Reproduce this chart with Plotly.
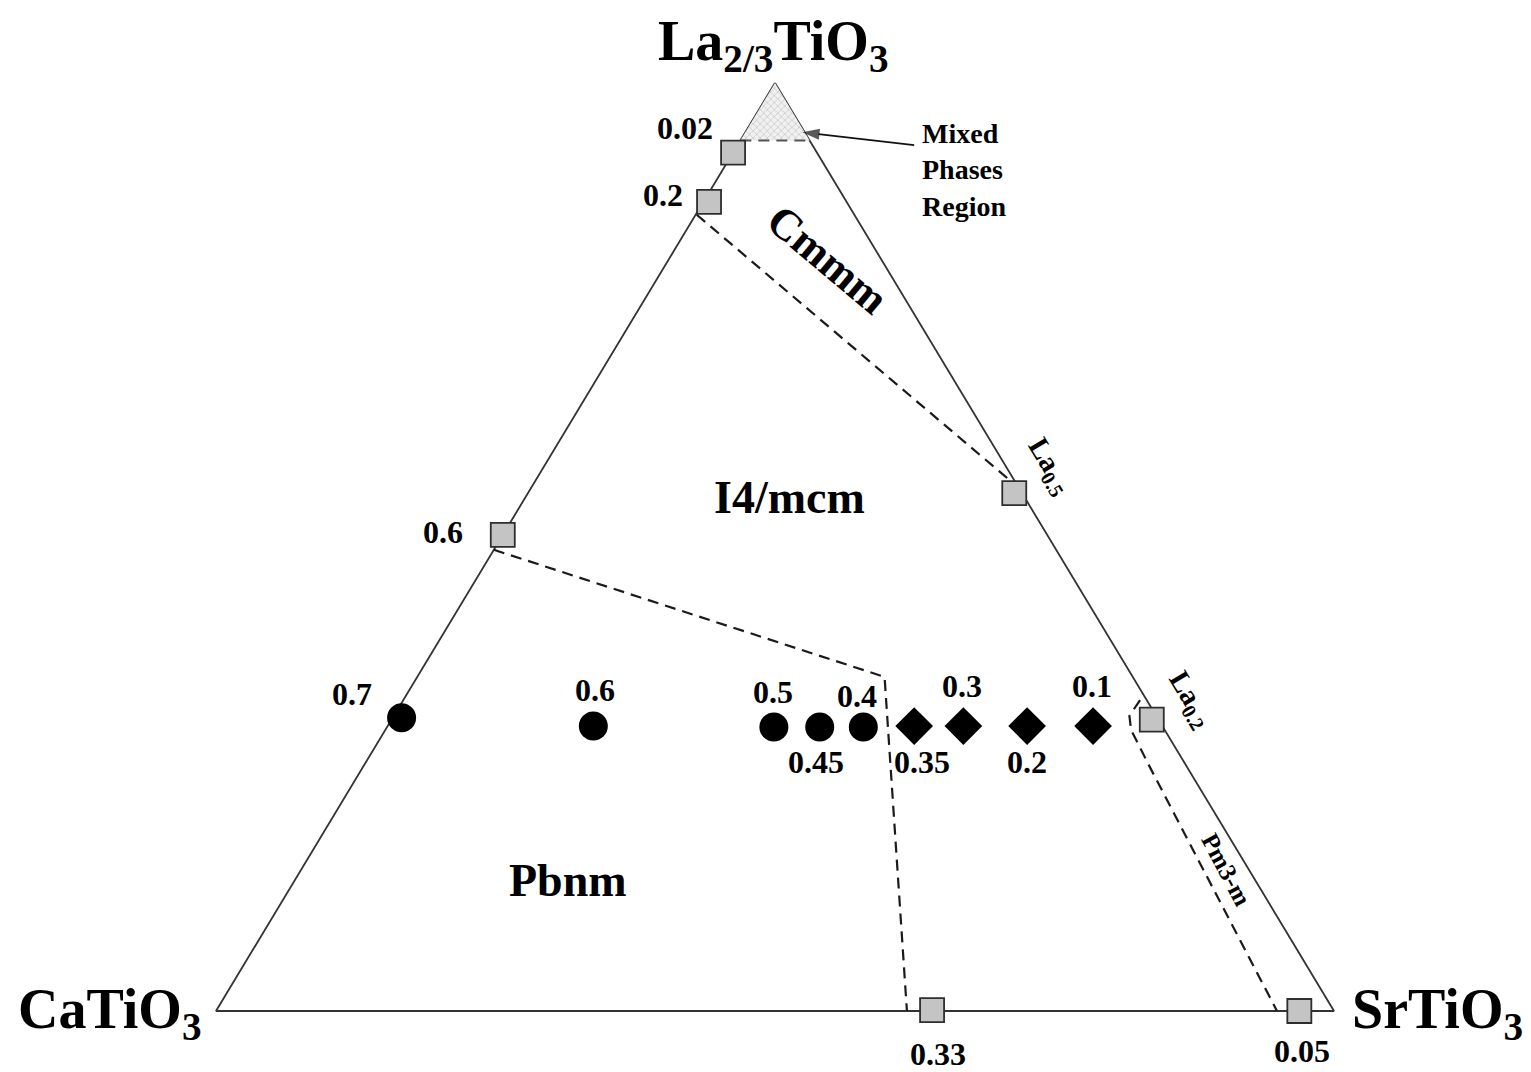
import plotly.graph_objects as go

FONT = "Liberation Serif"

# Compositions are given as (La, Sr) fractions of the three end members; Ca = 1 - La - Sr.
corner_names = ["La<sub>2/3</sub>TiO<sub>3</sub>", "CaTiO<sub>3</sub>", "SrTiO<sub>3</sub>"]
corner_la = [1.0, 0.0, 0.0]
corner_sr = [0.0, 0.0, 1.0]

# Studied samples: Pbnm (circles) and I4/mcm (diamonds)
circle_labels = ["0.7", "0.6", "0.5", "0.45", "0.4"]
circle_la = [0.316, 0.307, 0.306, 0.306, 0.306]
circle_sr = [0.008, 0.184, 0.346, 0.387, 0.426]

diamond_labels = ["0.35", "0.3", "0.2", "0.1"]
diamond_la = [0.307, 0.307, 0.307, 0.307]
diamond_sr = [0.471, 0.515, 0.572, 0.631]

# Literature end points of the binary joins (squares)
square_labels = ["0.02", "0.2", "0.6", "La<sub>0.5</sub>", "La<sub>0.2</sub>", "0.33", "0.05"]
square_la = [0.925, 0.872, 0.513, 0.558, 0.314, 0.001, 0.0]
square_sr = [0.0, 0.005, 0.0, 0.435, 0.680, 0.640, 0.969]

# Phase boundaries
mixed_la = [1.0, 0.938, 0.938]
mixed_sr = [0.0, 0.0, 0.062]
cmmm_bound_la = [0.858, 0.574]
cmmm_bound_sr = [0.001, 0.421]
pbnm_bound_la = [0.497, 0.360, 0.0]
pbnm_bound_sr = [0.0, 0.418, 0.618]
cubic_bound_la = [0.335, 0.318, 0.303, 0.267, 0.0]
cubic_bound_sr = [0.659, 0.658, 0.667, 0.700, 0.949]

# Pointer into the mixed-phase corner (tail, head)
arrow_la = [0.933, 0.947]
arrow_sr = [0.158, 0.051]


def to_xy(la, sr):
    """Ternary (La, Sr) fractions -> cartesian position inside the triangle."""
    xs = [s + l / 2 for l, s in zip(la, sr)]
    ys = list(la)
    return xs, ys


# label offsets in pixels (x, y) relative to their marker
circle_shift = [(-50, 24), (2, 36), (-1, 35), (-4, -35), (-6, 31)]
diamond_shift = [(8, -36), (-1, 40), (0, -36), (-1, 40)]
square_shift = [(-48, 25), (-46, 7), (-60, 3), (35, 27), (39, 20), (6, -44), (3, -40)]
square_angle = [0, 0, 0, 59, 59, 0, 0]
square_size = [32, 32, 32, 29, 29, 32, 32]

EDGE = "#333333"
DASH = "11px,7px"

fig = go.Figure()

# Outer triangle
tx, ty = to_xy(corner_la + corner_la[:1], corner_sr + corner_sr[:1])
fig.add_trace(go.Scatter(x=tx, y=ty, mode="lines",
                         line=dict(color=EDGE, width=1.8), hoverinfo="skip"))

# Mixed-phase region (hatched)
mx, my = to_xy(mixed_la, mixed_sr)
fig.add_trace(go.Scatter(x=mx, y=my, mode="lines", fill="toself",
                         fillcolor="rgba(0,0,0,0)",
                         fillpattern=dict(shape="x", size=5, solidity=0.25,
                                          fgcolor="#9a9a9a", bgcolor="#f0f0f0"),
                         line=dict(width=0), hoverinfo="skip"))
bx, by = to_xy(mixed_la[1:], mixed_sr[1:])
fig.add_trace(go.Scatter(x=bx, y=by, mode="lines",
                         line=dict(color="#555555", width=2, dash=DASH), hoverinfo="skip"))

# Dashed phase boundaries
for la, sr in [(cmmm_bound_la, cmmm_bound_sr), (pbnm_bound_la, pbnm_bound_sr),
               (cubic_bound_la, cubic_bound_sr)]:
    x, y = to_xy(la, sr)
    fig.add_trace(go.Scatter(x=x, y=y, mode="lines",
                             line=dict(color="#1a1a1a", width=2.2, dash=DASH),
                             hoverinfo="skip"))

# Pointer line with arrow head
ax_, ay_ = to_xy(arrow_la, arrow_sr)
fig.add_trace(go.Scatter(x=ax_, y=ay_, mode="lines+markers",
                         line=dict(color="#111111", width=1.8),
                         marker=dict(symbol="arrow", angleref="previous", size=[0, 18],
                                     color="#111111", line=dict(width=0)),
                         hoverinfo="skip"))

# Squares
sx, sy = to_xy(square_la, square_sr)
fig.add_trace(go.Scatter(x=sx, y=sy, mode="markers",
                         marker=dict(symbol="square", size=24, color="#c4c4c4",
                                     line=dict(color="#2e2e2e", width=1.8)),
                         hoverinfo="skip"))

# Circles and diamonds
cx, cy = to_xy(circle_la, circle_sr)
fig.add_trace(go.Scatter(x=cx, y=cy, mode="markers",
                         marker=dict(symbol="circle", size=29, color="black"),
                         hoverinfo="skip"))
dx, dy = to_xy(diamond_la, diamond_sr)
fig.add_trace(go.Scatter(x=dx, y=dy, mode="markers",
                         marker=dict(symbol="diamond", size=29, color="black"),
                         hoverinfo="skip"))

annotations = []


def bold(size):
    return dict(family=FONT, size=size, color="black", weight="bold")


for xs, ys, labels, shifts in [(cx, cy, circle_labels, circle_shift),
                               (dx, dy, diamond_labels, diamond_shift)]:
    for x, y, t, (sh_x, sh_y) in zip(xs, ys, labels, shifts):
        annotations.append(dict(x=x, y=y, text=t, showarrow=False, xshift=sh_x,
                                yshift=sh_y, font=bold(32)))

for x, y, t, (sh_x, sh_y), ang, fs in zip(sx, sy, square_labels, square_shift,
                                          square_angle, square_size):
    annotations.append(dict(x=x, y=y, text=t, showarrow=False, xshift=sh_x,
                            yshift=sh_y, textangle=ang, font=bold(fs)))

# Corner names
kx, ky = to_xy(corner_la, corner_sr)
corner_shift = [(-2, 38), (-106, -2), (103, -2)]
for x, y, t, (sh_x, sh_y) in zip(kx, ky, corner_names, corner_shift):
    annotations.append(dict(x=x, y=y, text=t, showarrow=False, xshift=sh_x,
                            yshift=sh_y, font=bold(56)))

# Space-group regions
annotations += [
    dict(x=0.547, y=0.81, text="Cmmm", textangle=40, showarrow=False, font=bold(44)),
    dict(x=0.513, y=0.553, text="I4/mcm", showarrow=False, font=bold(46)),
    dict(x=0.315, y=0.141, text="Pbnm", showarrow=False, font=bold(46)),
    dict(x=0.9035, y=0.152, text="Pm3-m", textangle=62, showarrow=False, font=bold(25)),
]

# Mixed-phase callout
annotations.append(dict(x=0.6295, y=0.906, text="Mixed<br>Phases<br>Region", align="left",
                        xanchor="left", yanchor="middle", showarrow=False, font=bold(28)))

fig.update_layout(
    width=1531, height=1072,
    margin=dict(l=0, r=0, t=0, b=0),
    paper_bgcolor="white", plot_bgcolor="white",
    showlegend=False,
    xaxis=dict(range=[-216 / 1118, 1315 / 1118], visible=False, fixedrange=True),
    yaxis=dict(range=[-61 / 928, 1 + 83 / 928], visible=False, fixedrange=True),
    annotations=annotations,
)

fig.write_html("out.html")
